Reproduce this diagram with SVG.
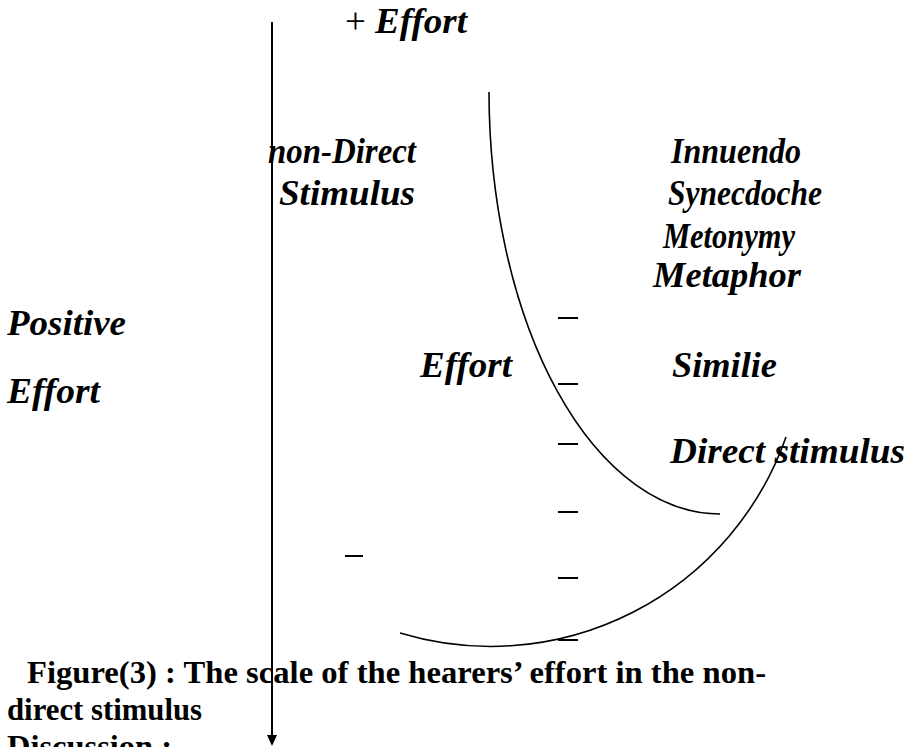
<svg xmlns="http://www.w3.org/2000/svg" width="909" height="747" viewBox="0 0 909 747">
<style>
.t{font-family:"Liberation Serif","Times New Roman",serif;font-weight:bold;font-style:italic;font-size:36px;fill:#000}
.c{font-family:"Liberation Serif","Times New Roman",serif;font-weight:bold;font-size:32px;fill:#000}
.ln{stroke:#000;stroke-width:2;fill:none}
.cv{stroke:#000;stroke-width:1.6;fill:none}
.tk{stroke:#000;stroke-width:2}
</style>
<rect width="909" height="747" fill="#fff"/>
<g id="axis">
<line class="ln" x1="272" y1="22" x2="272" y2="736"/>
<polygon points="267,735 277,735 272,746" fill="#000"/>
</g>
<g id="connectors">
<path class="cv" d="M489,92 A231,423 0 0 0 720,514"/>
<path class="cv" d="M400,633 A313,313 0 0 0 786,437"/>
</g>
<g id="ticks">
<line class="tk" x1="558" y1="318" x2="578" y2="318"/>
<line class="tk" x1="558" y1="384" x2="578" y2="384"/>
<line class="tk" x1="558" y1="444" x2="578" y2="444"/>
<line class="tk" x1="558" y1="512" x2="578" y2="512"/>
<line class="tk" x1="558" y1="578" x2="578" y2="578"/>
<line class="tk" x1="558" y1="640" x2="578" y2="640"/>
<line class="tk" x1="345" y1="556" x2="363" y2="556"/>
</g>
<g id="plus-effort"><text class="t" x="345" y="33" textLength="122" lengthAdjust="spacingAndGlyphs"><tspan font-style="normal" font-weight="normal">+ </tspan>Effort</text></g>
<g id="non-direct"><text class="t" x="268" y="163" textLength="148" lengthAdjust="spacingAndGlyphs">non-Direct</text>
<text class="t" x="279" y="205" textLength="136" lengthAdjust="spacingAndGlyphs">Stimulus</text></g>
<g id="innuendo"><text class="t" x="671" y="163" textLength="130" lengthAdjust="spacingAndGlyphs">Innuendo</text></g>
<g id="synecdoche"><text class="t" x="668" y="205" textLength="154" lengthAdjust="spacingAndGlyphs">Synecdoche</text></g>
<g id="metonymy"><text class="t" x="663" y="248" textLength="132" lengthAdjust="spacingAndGlyphs">Metonymy</text></g>
<g id="metaphor"><text class="t" x="653" y="287" textLength="148" lengthAdjust="spacingAndGlyphs">Metaphor</text></g>
<g id="positive-effort"><text class="t" x="7" y="335" textLength="119" lengthAdjust="spacingAndGlyphs">Positive</text>
<text class="t" x="7" y="403" textLength="93" lengthAdjust="spacingAndGlyphs">Effort</text></g>
<g id="effort-mid"><text class="t" x="420" y="377" textLength="92" lengthAdjust="spacingAndGlyphs">Effort</text></g>
<g id="similie"><text class="t" x="672" y="377" textLength="105" lengthAdjust="spacingAndGlyphs">Similie</text></g>
<g id="direct-stimulus"><text class="t" x="670" y="463" textLength="235" lengthAdjust="spacingAndGlyphs">Direct stimulus</text></g>
<g id="caption">
<text class="c" x="27" y="683" textLength="739" lengthAdjust="spacingAndGlyphs">Figure(3) : The scale of the hearers’ effort in the non-</text>
<text class="c" x="7" y="720" textLength="195" lengthAdjust="spacingAndGlyphs">direct stimulus</text>
<text class="c" x="7" y="757" textLength="165" lengthAdjust="spacingAndGlyphs">Discussion :</text>
</g>
</svg>
